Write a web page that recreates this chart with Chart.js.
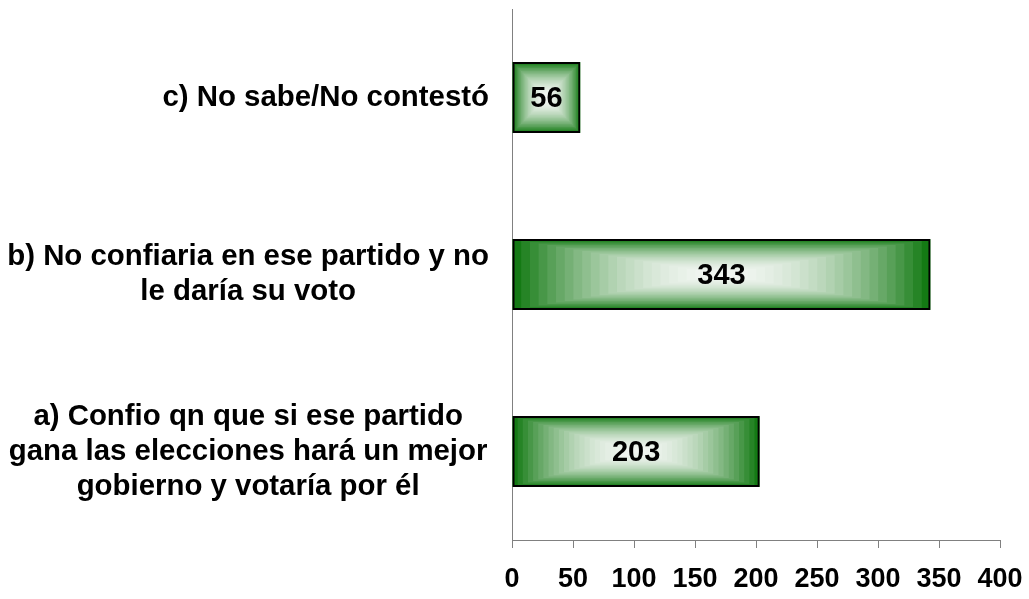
<!DOCTYPE html>
<html>
<head>
<meta charset="utf-8">
<title>Confianza en el partido</title>
<script src="https://cdn.jsdelivr.net/npm/chart.js@4/dist/chart.umd.min.js"></script>
<style>
  html, body { margin: 0; padding: 0; background: #ffffff; }
  #wrap { width: 1029px; height: 599px; }
</style>
</head>
<body>
<div id="wrap"><canvas id="chart"></canvas></div>
<script>
// Data (bottom to top, as in the original)
const categories = [
    ['a) Confio qn que si ese partido', 'gana las elecciones hará un mejor', 'gobierno y votaría por él'],
    ['b) No confiaria en ese partido y no', 'le daría su voto'],
    'c) No sabe/No contestó'
];
const values = [203, 343, 56];
const xTicks = [0, 50, 100, 150, 200, 250, 300, 350, 400];

const FONT = '"Liberation Sans", Arial, sans-serif';

// Rectangular "from center" gradient, white in the middle to green at the edges
function bandColor(t) {
    const f = t * t;
    const r = Math.round(242 + (20 - 242) * f);
    const g = Math.round(246 + (122 - 246) * f);
    const b = Math.round(242 + (20 - 242) * f);
    return 'rgb(' + r + ',' + g + ',' + b + ')';
}

const gradientBars = {
    id: 'gradientBars',
    beforeDatasetsDraw(chart) {
        const ctx = chart.ctx;
        const meta = chart.getDatasetMeta(0);
        meta.data.forEach(bar => {
            const p = bar.getProps(['x', 'y', 'base', 'height'], true);
            const left = Math.min(p.x, p.base), right = Math.max(p.x, p.base);
            const cx = (left + right) / 2, cy = p.y;
            const hw = (right - left) / 2, hh = p.height / 2;
            const steps = 24;
            ctx.save();
            for (let k = steps; k >= 1; k--) {
                const t = k / steps;
                ctx.fillStyle = bandColor(t);
                ctx.fillRect(cx - hw * t, cy - hh * t, hw * t * 2, hh * t * 2);
            }
            ctx.restore();
        });
    },
    afterDatasetsDraw(chart) {
        const ctx = chart.ctx;
        const meta = chart.getDatasetMeta(0);
        ctx.save();
        ctx.font = 'bold 29px ' + FONT;
        ctx.fillStyle = '#000000';
        ctx.textAlign = 'center';
        ctx.textBaseline = 'middle';
        meta.data.forEach((bar, i) => {
            const p = bar.getProps(['x', 'y', 'base'], true);
            ctx.fillText(String(values[i]), (p.x + p.base) / 2, p.y + 1);
        });
        ctx.restore();
    }
};

// Category labels: wrapped ones centred, single-line ones right aligned
const categoryLabels = {
    id: 'categoryLabels',
    afterDraw(chart) {
        const ctx = chart.ctx;
        const yScale = chart.scales.y;
        const right = chart.chartArea.left - 23;
        const lineH = 35;
        ctx.save();
        ctx.font = 'bold 29.4px ' + FONT;
        ctx.fillStyle = '#000000';
        ctx.textBaseline = 'middle';
        let maxW = 0;
        categories.forEach(c => {
            [].concat(c).forEach(line => { maxW = Math.max(maxW, ctx.measureText(line).width); });
        });
        categories.forEach((c, i) => {
            const cy = yScale.getPixelForValue(i);
            if (Array.isArray(c)) {
                ctx.textAlign = 'center';
                const top = cy - (c.length - 1) * lineH / 2;
                c.forEach((line, j) => ctx.fillText(line, right - maxW / 2, top + j * lineH));
            } else {
                ctx.textAlign = 'right';
                ctx.fillText(c, right, cy);
            }
        });
        ctx.restore();
    }
};

new Chart(document.getElementById('chart'), {
    type: 'bar',
    data: {
        labels: categories,
        datasets: [{
            data: values,
            backgroundColor: 'rgba(0,0,0,0)',
            borderColor: '#000000',
            borderWidth: 2,
            borderSkipped: false,
            barPercentage: 0.4,
            categoryPercentage: 1
        }]
    },
    options: {
        indexAxis: 'y',
        responsive: true,
        maintainAspectRatio: false,
        animation: false,
        layout: { padding: { left: 512, right: 0, top: 9, bottom: 0 } },
        plugins: {
            legend: { display: false },
            tooltip: { enabled: false }
        },
        scales: {
            x: {
                min: 0,
                max: 400,
                afterBuildTicks: scale => { scale.ticks = xTicks.map(v => ({ value: v })); },
                afterFit: scale => {
                    scale.height = 59;
                    scale.paddingLeft = 0;
                    scale.paddingRight = 29;
                },
                grid: {
                    display: true,
                    drawOnChartArea: false,
                    drawTicks: true,
                    tickLength: 8,
                    tickColor: '#808080'
                },
                border: { display: true, color: '#808080', width: 1 },
                ticks: {
                    color: '#000000',
                    padding: 15,
                    maxRotation: 0,
                    autoSkip: false,
                    font: { family: FONT, size: 27, weight: 'bold' }
                }
            },
            y: {
                reverse: true,
                grid: { display: false, drawTicks: false },
                border: { display: true, color: '#808080', width: 1 },
                ticks: { display: false }
            }
        }
    },
    plugins: [gradientBars, categoryLabels]
});
</script>
</body>
</html>
